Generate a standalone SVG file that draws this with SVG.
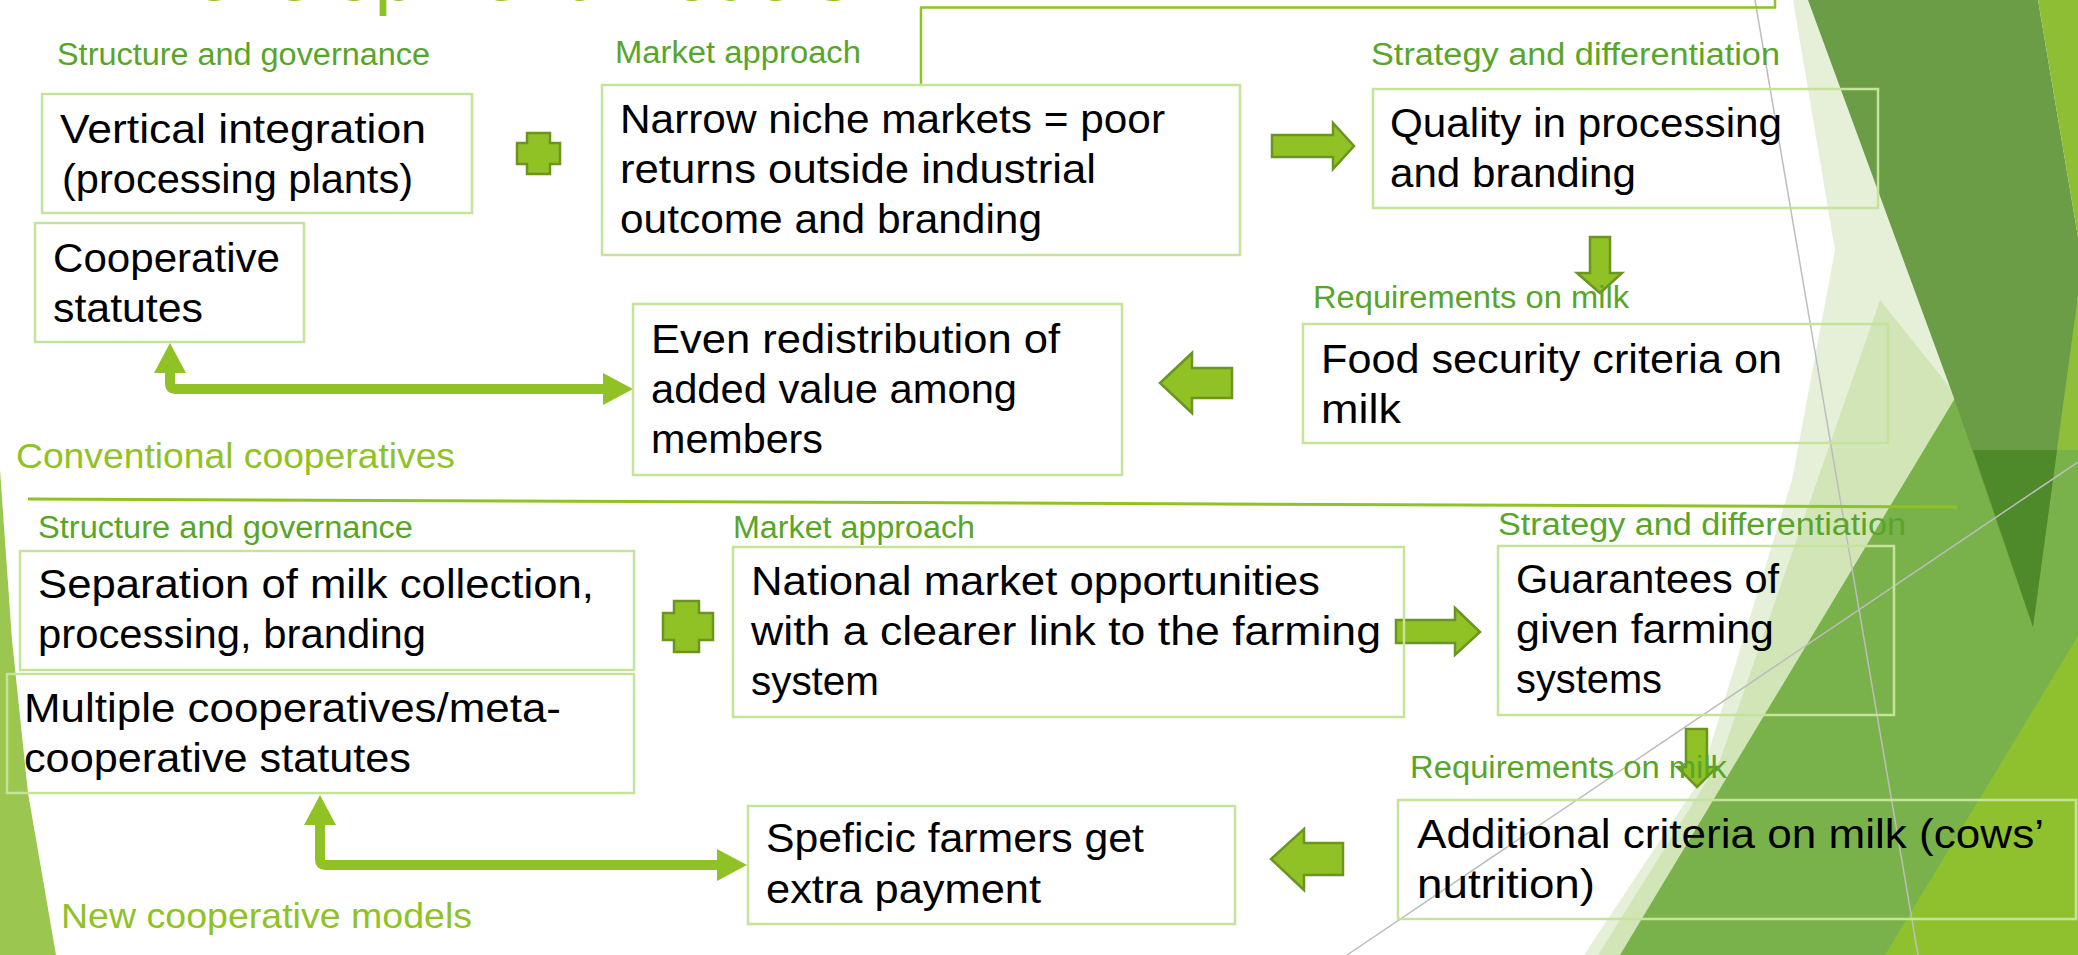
<svg xmlns="http://www.w3.org/2000/svg" width="2078" height="955" viewBox="0 0 2078 955">
<style>
.bx{fill:none;stroke:#C6E39B;stroke-width:2.5}
.t{font-family:"Liberation Sans",Arial,sans-serif;font-size:40px;fill:#000}
.lb{font-family:"Liberation Sans",Arial,sans-serif;font-size:31px;fill:#58A52A}
.sec{font-family:"Liberation Sans",Arial,sans-serif;font-size:35px;fill:#90C226}
.blk{fill:#90C226;stroke:#6A961F;stroke-width:2.5}
.con{fill:none;stroke:#90C226;stroke-width:10;stroke-linejoin:round}
.gl{stroke:#BDBDBD;stroke-width:1.5;fill:none}
</style>
<defs>
<marker id="ah" markerUnits="userSpaceOnUse" markerWidth="32" markerHeight="34" refX="0" refY="16" orient="auto-start-reverse" viewBox="0 0 32 32">
<path d="M0,0 L30,16 L0,32 Z" fill="#90C226"/>
</marker>
</defs>
<rect width="2078" height="955" fill="#FFFFFF"/>
<g id="decor">
<polygon points="1793,0 1810,0 1960,400 1620,955 1584,955 1700,780 1792,480 1835,250" fill="#E6F0D9"/>
<polygon points="1880,300 1960,400 1620,955 1598,955 1720,760" fill="#D2E5B6"/>
<polygon points="1620,955 1975,365 2078,300 2078,955" fill="#79B24A"/>
<polygon points="1885,955 2078,636 2078,955" fill="#8FC12E"/>
<polygon points="1808,0 2038,0 2078,237 2078,296 2033,627 1954,398" fill="#6B9D47"/>
<polygon points="1973,450 2057,450 2033,627" fill="#4E8A29"/>
<polygon points="2038,0 2078,0 2078,237" fill="#8EBE33"/>
<polygon points="2078,296 2057,450 2078,450" fill="#8EBE3A"/>
<polygon points="0,470 12,640 28,793 56,955 0,955" fill="#9BC64F"/>
<line class="gl" x1="1755" y1="0" x2="1918" y2="955"/>
<line class="gl" x1="1347" y1="955" x2="2078" y2="462"/>
</g>
<g id="title">
<text x="138" y="0" font-family="Liberation Sans, Arial, sans-serif" font-size="76" fill="#90C226">Development models</text>
</g>
<g id="connectors">
<path class="con" d="M921,85 V7.5 H1775 V0" style="stroke-width:2.5"/>
<path class="con" d="M170,373 V384 Q170,389 175,389 H603" marker-start="url(#ah)" marker-end="url(#ah)"/>
<path class="con" d="M320,825 V860 Q320,865 325,865 H717" marker-start="url(#ah)" marker-end="url(#ah)"/>
<path class="blk" d="M1272,135 H1333 V123 L1354,146 L1333,169 V157 H1272 Z"/>
<path class="blk" d="M1396,620 H1455 V608 L1480,632 L1455,655 V643 H1396 Z"/>
<path class="blk" d="M1232,368 H1192 V353 L1160,383 L1192,413 V398 H1232 Z"/>
<path class="blk" d="M1343,843 H1304 V829 L1271,859 L1304,890 V875 H1343 Z"/>
<path class="blk" d="M1590,237 H1610 V273 H1622 L1600,293 L1577,273 H1590 Z"/>
<path class="blk" d="M1686,729 H1707 V767 H1717 L1697,787 L1677,767 H1686 Z"/>
<path class="blk" d="M527,133 H550 V143 H560 V164 H550 V174 H527 V164 H517 V143 H527 Z"/>
<path class="blk" d="M674,601 H699 V613 H713 V640 H699 V652 H674 V640 H663 V613 H674 Z"/>
<line x1="28" y1="499" x2="1957" y2="507" stroke="#90C226" stroke-width="3"/>
</g>
<g id="sec1">
<text class="sec" x="16" y="468" textLength="439" lengthAdjust="spacingAndGlyphs">Conventional cooperatives</text>
<text class="lb" x="57" y="65" textLength="373" lengthAdjust="spacingAndGlyphs">Structure and governance</text>
<text class="lb" x="615" y="63" textLength="246" lengthAdjust="spacingAndGlyphs">Market approach</text>
<text class="lb" x="1371" y="65" textLength="409" lengthAdjust="spacingAndGlyphs">Strategy and differentiation</text>
<text class="lb" x="1313" y="308" textLength="316" lengthAdjust="spacingAndGlyphs">Requirements on milk</text>
</g>
<g id="n-vertical">
<rect class="bx" x="42" y="94" width="430" height="119"/>
<text class="t" x="60" y="143" textLength="366" lengthAdjust="spacingAndGlyphs">Vertical integration</text>
<text class="t" x="62" y="193" textLength="351" lengthAdjust="spacingAndGlyphs">(processing plants)</text>
</g>
<g id="n-coopstat">
<rect class="bx" x="35" y="223" width="269" height="119"/>
<text class="t" x="53" y="272" textLength="227" lengthAdjust="spacingAndGlyphs">Cooperative</text>
<text class="t" x="53" y="322" textLength="150" lengthAdjust="spacingAndGlyphs">statutes</text>
</g>
<g id="n-narrow">
<rect class="bx" x="602" y="85" width="638" height="170"/>
<text class="t" x="620" y="133" textLength="545" lengthAdjust="spacingAndGlyphs">Narrow niche markets = poor</text>
<text class="t" x="620" y="183" textLength="476" lengthAdjust="spacingAndGlyphs">returns outside industrial</text>
<text class="t" x="620" y="233" textLength="422" lengthAdjust="spacingAndGlyphs">outcome and branding</text>
</g>
<g id="n-quality">
<rect class="bx" x="1373" y="89" width="505" height="119"/>
<text class="t" x="1390" y="137" textLength="392" lengthAdjust="spacingAndGlyphs">Quality in processing</text>
<text class="t" x="1390" y="187" textLength="246" lengthAdjust="spacingAndGlyphs">and branding</text>
</g>
<g id="n-food">
<rect class="bx" x="1303" y="324" width="585" height="119"/>
<text class="t" x="1321" y="373" textLength="461" lengthAdjust="spacingAndGlyphs">Food security criteria on</text>
<text class="t" x="1321" y="423" textLength="80" lengthAdjust="spacingAndGlyphs">milk</text>
</g>
<g id="n-even">
<rect class="bx" x="633" y="304" width="489" height="171"/>
<text class="t" x="651" y="353" textLength="409" lengthAdjust="spacingAndGlyphs">Even redistribution of</text>
<text class="t" x="651" y="403" textLength="366" lengthAdjust="spacingAndGlyphs">added value among</text>
<text class="t" x="651" y="453" textLength="172" lengthAdjust="spacingAndGlyphs">members</text>
</g>
<g id="sec2">
<text class="sec" x="61" y="928" textLength="411" lengthAdjust="spacingAndGlyphs">New cooperative models</text>
<text class="lb" x="38" y="538" textLength="375" lengthAdjust="spacingAndGlyphs">Structure and governance</text>
<text class="lb" x="733" y="538" textLength="242" lengthAdjust="spacingAndGlyphs">Market approach</text>
<text class="lb" x="1498" y="535" textLength="408" lengthAdjust="spacingAndGlyphs">Strategy and differentiation</text>
<text class="lb" x="1410" y="778" textLength="317" lengthAdjust="spacingAndGlyphs">Requirements on milk</text>
</g>
<g id="n-separation">
<rect class="bx" x="20" y="551" width="614" height="119"/>
<text class="t" x="38" y="598" textLength="556" lengthAdjust="spacingAndGlyphs">Separation of milk collection,</text>
<text class="t" x="38" y="648" textLength="388" lengthAdjust="spacingAndGlyphs">processing, branding</text>
</g>
<g id="n-multiple">
<rect class="bx" x="7" y="674" width="627" height="119"/>
<text class="t" x="24" y="722" textLength="537" lengthAdjust="spacingAndGlyphs">Multiple cooperatives/meta-</text>
<text class="t" x="24" y="772" textLength="387" lengthAdjust="spacingAndGlyphs">cooperative statutes</text>
</g>
<g id="n-national">
<rect class="bx" x="733" y="547" width="671" height="170"/>
<text class="t" x="751" y="595" textLength="569" lengthAdjust="spacingAndGlyphs">National market opportunities</text>
<text class="t" x="751" y="645" textLength="630" lengthAdjust="spacingAndGlyphs">with a clearer link to the farming</text>
<text class="t" x="751" y="695" textLength="128" lengthAdjust="spacingAndGlyphs">system</text>
</g>
<g id="n-guarantees">
<rect class="bx" x="1498" y="546" width="396" height="169"/>
<text class="t" x="1516" y="593" textLength="263" lengthAdjust="spacingAndGlyphs">Guarantees of</text>
<text class="t" x="1516" y="643" textLength="258" lengthAdjust="spacingAndGlyphs">given farming</text>
<text class="t" x="1516" y="693" textLength="146" lengthAdjust="spacingAndGlyphs">systems</text>
</g>
<g id="n-additional">
<rect class="bx" x="1398" y="800" width="678" height="119"/>
<text class="t" x="1417" y="848" textLength="627" lengthAdjust="spacingAndGlyphs">Additional criteria on milk (cows’</text>
<text class="t" x="1417" y="898" textLength="178" lengthAdjust="spacingAndGlyphs">nutrition)</text>
</g>
<g id="n-speficic">
<rect class="bx" x="748" y="806" width="487" height="118"/>
<text class="t" x="766" y="852" textLength="378" lengthAdjust="spacingAndGlyphs">Speficic farmers get</text>
<text class="t" x="766" y="903" textLength="275" lengthAdjust="spacingAndGlyphs">extra payment</text>
</g>
</svg>
